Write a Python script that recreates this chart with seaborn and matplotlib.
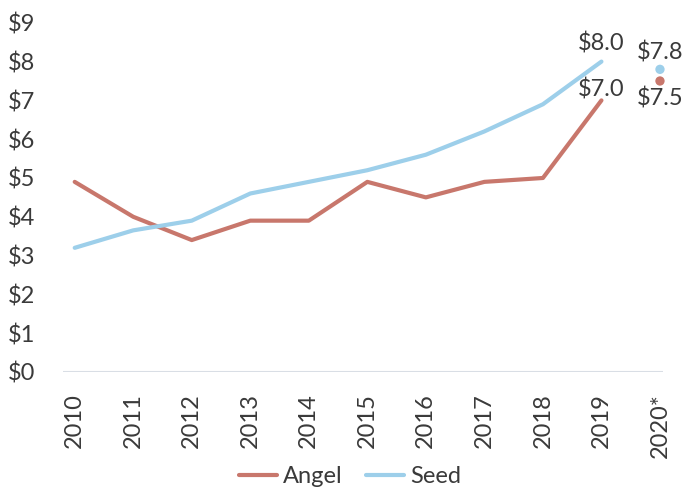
import pandas as pd
import numpy as np
import matplotlib
matplotlib.use("Agg")
import matplotlib.pyplot as plt
import seaborn as sns

# Dados
anos = ["2010", "2011", "2012", "2013", "2014", "2015", "2016", "2017", "2018", "2019"]
angel = [4.9, 4.0, 3.4, 3.9, 3.9, 4.9, 4.5, 4.9, 5.0, 7.0]
seed = [3.2, 3.65, 3.9, 4.6, 4.9, 5.2, 5.6, 6.2, 6.9, 8.0]
ano_proj = "2020*"
angel_proj = 7.5
seed_proj = 7.8
yticks = list(range(0, 10))

cor_angel = "#C8776C"
cor_seed = "#9DCFEA"
cor_texto = "#3A3A3A"
fs = 17

sns.set_theme(style="white")
plt.rcParams["font.family"] = ["Lato", "DejaVu Sans"]

df = pd.DataFrame({
    "Ano": anos * 2,
    "Valor": angel + seed,
    "Tipo": ["Angel"] * len(anos) + ["Seed"] * len(anos),
})

fig = plt.figure(figsize=(7, 4.91), dpi=100)
ax = fig.add_axes([0.09, 0.2424, 0.857, 0.727])

sns.lineplot(
    data=df, x="Ano", y="Valor", hue="Tipo",
    palette={"Angel": cor_angel, "Seed": cor_seed},
    linewidth=3, ax=ax,
)

# Projeção 2020
proj = pd.DataFrame({"Ano": [ano_proj, ano_proj], "Valor": [seed_proj, angel_proj], "Tipo": ["Seed", "Angel"]})
sns.scatterplot(
    data=proj, x="Ano", y="Valor", hue="Tipo",
    palette={"Angel": cor_angel, "Seed": cor_seed},
    s=45, edgecolor="none", legend=False, ax=ax, clip_on=False,
)

# Rótulos
ax.annotate(f"${seed[-1]:.1f}", (len(anos) - 1, seed[-1]), xytext=(0, 5), textcoords="offset points",
            ha="center", va="bottom", fontsize=fs, color=cor_texto)
ax.annotate(f"${angel[-1]:.1f}", (len(anos) - 1, angel[-1]), xytext=(0, 0), textcoords="offset points",
            ha="center", va="bottom", fontsize=fs, color=cor_texto)
ax.annotate(f"${seed_proj:.1f}", (len(anos), seed_proj), xytext=(0, 4), textcoords="offset points",
            ha="center", va="bottom", fontsize=fs, color=cor_texto)
ax.annotate(f"${angel_proj:.1f}", (len(anos), angel_proj), xytext=(0, -5), textcoords="offset points",
            ha="center", va="top", fontsize=fs, color=cor_texto)

ax.set_xlim(-0.2, len(anos) + 0.05)
ax.set_ylim(0, 9.2)
ax.set_yticks(yticks)
ax.set_yticklabels([f"${v}" for v in yticks])
ax.set_xticks(range(len(anos) + 1))
ax.set_xticklabels(anos + [ano_proj], rotation=90)
ax.tick_params(axis="both", labelsize=fs, labelcolor=cor_texto, length=0)
ax.tick_params(axis="y", pad=20)
ax.tick_params(axis="x", pad=15)
ax.set_xlabel("")
ax.set_ylabel("")

sns.despine(ax=ax, left=True, bottom=True)
ax.axhline(0, color="#D9DEE5", linewidth=1.5, zorder=0)

handles, labels = ax.get_legend_handles_labels()
ax.legend(handles[:2], labels[:2], loc="lower center", bbox_to_anchor=(0.5, -0.036),
          bbox_transform=fig.transFigure, ncol=2, frameon=False, fontsize=fs,
          handlelength=1.6, handletextpad=0.25, columnspacing=1.0, labelcolor=cor_texto)

fig.savefig("out.png", dpi=100)
